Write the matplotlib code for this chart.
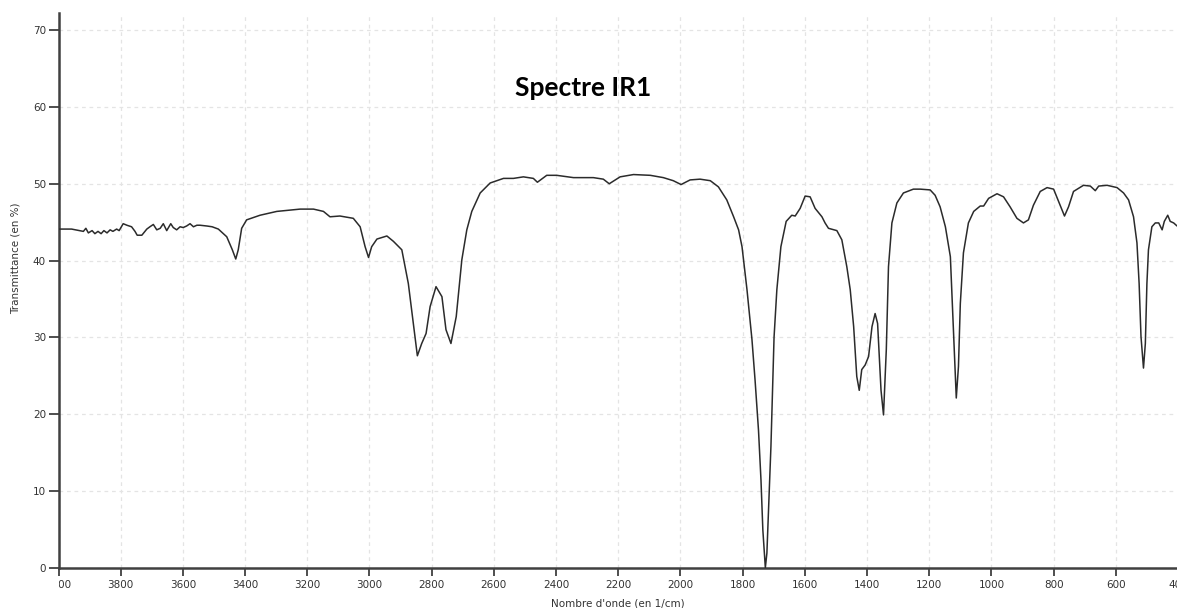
import matplotlib
matplotlib.use("Agg")
import matplotlib.pyplot as plt
from matplotlib.transforms import Bbox, TransformedBbox

plt.rcParams['font.family'] = ['DejaVu Sans']

wavenumber = [4000, 3958, 3920, 3912, 3904, 3892, 3883, 3873, 3863, 3854, 3844, 3834, 3825, 3813, 3805,
              3792, 3780, 3765, 3754, 3747, 3732, 3716, 3706, 3695, 3684, 3673, 3663, 3652, 3639, 3631,
              3620, 3609, 3599, 3588, 3577, 3566, 3555, 3545, 3523, 3506, 3486, 3459, 3441, 3430, 3422,
              3411, 3395, 3352, 3298, 3223, 3180, 3148, 3127, 3095, 3052, 3030, 3014, 3003, 2993, 2976,
              2944, 2923, 2896, 2875, 2859, 2846, 2832, 2818, 2805, 2786, 2767, 2754, 2738, 2721, 2703,
              2687, 2671, 2644, 2612, 2569, 2537, 2505, 2473, 2460, 2430, 2398, 2344, 2280, 2248, 2229,
              2194, 2151, 2097, 2055, 2023, 1998, 1969, 1937, 1904, 1878, 1851, 1829, 1813, 1802, 1786,
              1770, 1760, 1749, 1741, 1735, 1727, 1722, 1715, 1709, 1703, 1699, 1690, 1677, 1660, 1642,
              1631, 1615, 1599, 1583, 1567, 1545, 1535, 1524, 1497, 1481, 1465, 1454, 1443, 1433, 1425,
              1417, 1406, 1395, 1384, 1374, 1366, 1355, 1347, 1338, 1331, 1320, 1304, 1283, 1251, 1229,
              1197, 1181, 1165, 1148, 1132, 1124, 1116, 1113, 1106, 1100, 1090, 1074, 1057, 1036, 1025,
              1009, 982, 961, 940, 918, 897, 881, 865, 843, 821, 800, 779, 765, 752, 736,
              704, 682, 666, 655, 628, 596, 575, 559, 543, 532, 525, 519, 511, 505, 500,
              495, 484, 473, 462, 451, 444, 433, 425, 414, 403, 400]

transmittance = [44.1, 44.1, 43.8, 44.2, 43.6, 43.9, 43.5, 43.8, 43.5, 43.9, 43.6, 44.0, 43.8, 44.1, 43.9,
                 44.8, 44.6, 44.4, 43.8, 43.3, 43.3, 44.1, 44.4, 44.7, 44.0, 44.2, 44.8, 43.9, 44.8, 44.3,
                 44.0, 44.4, 44.3, 44.5, 44.8, 44.4, 44.6, 44.6, 44.5, 44.4, 44.1, 43.1, 41.4, 40.2, 41.4,
                 44.2, 45.3, 45.9, 46.4, 46.7, 46.7, 46.4, 45.7, 45.8, 45.5, 44.4, 41.8, 40.4, 41.8, 42.8,
                 43.2, 42.5, 41.4, 37.0, 31.8, 27.6, 29.2, 30.5, 34.0, 36.6, 35.3, 31.0, 29.2, 32.7, 40.1,
                 44.0, 46.4, 48.8, 50.1, 50.7, 50.7, 50.9, 50.7, 50.2, 51.1, 51.1, 50.8, 50.8, 50.6, 50.0,
                 50.9, 51.2, 51.1, 50.8, 50.4, 49.9, 50.5, 50.6, 50.4, 49.6, 47.9, 45.7, 44.0, 41.8, 36.2,
                 29.7, 24.4, 17.9, 11.4, 4.9, 0.0, 1.9, 9.2, 15.8, 24.4, 30.0, 36.2, 41.8, 45.1, 45.9,
                 45.8, 46.8, 48.4, 48.3, 46.8, 45.7, 44.9, 44.2, 43.9, 42.7, 39.2, 36.2, 31.4, 24.9, 23.1,
                 25.8, 26.4, 27.5, 31.4, 33.1, 31.8, 23.1, 19.9, 28.4, 39.2, 44.9, 47.5, 48.8, 49.3, 49.3,
                 49.2, 48.5, 47.0, 44.4, 40.5, 32.7, 24.9, 22.1, 26.2, 34.4, 41.0, 44.9, 46.4, 47.1, 47.1,
                 48.1, 48.7, 48.3, 47.0, 45.5, 44.9, 45.3, 47.2, 49.0, 49.5, 49.3, 47.2, 45.8, 47.0, 49.0,
                 49.8, 49.7, 49.1, 49.7, 49.8, 49.5, 48.8, 47.9, 45.7, 42.3, 37.0, 30.1, 26.0, 29.2, 37.0,
                 41.4, 44.4, 44.9, 44.9, 44.0, 45.1, 45.9, 45.1, 44.9, 44.5, 44.6]

x_ticks = list(range(4000, 399, -200))
x_tick_labels = [str(v) for v in x_ticks]
y_ticks = list(range(0, 71, 10))
y_tick_labels = [str(v) for v in y_ticks]

title_text = "Spectre IR1"
x_label = "Nombre d'onde (en 1/cm)"
y_label = "Transmittance (en %)"

W, H = 1177, 608
fig = plt.figure(figsize=(W / 100, H / 100), dpi=100)
fig.patch.set_facecolor('white')

left_px, right_px = 58.5, 1178.0
bottom_px, top_px = 567.7, 13.3
ax = fig.add_axes([left_px / W, (H - bottom_px) / H,
                   (right_px - left_px) / W, (bottom_px - top_px) / H])

ax.plot(wavenumber, transmittance, color='#2b2b2b', lw=1.1, zorder=3)

ax.set_xlim(4000, 400)
ax.set_ylim(0, 72.2)
ax.set_xticks(x_ticks)
ax.set_xticklabels(x_tick_labels)
ax.set_yticks(y_ticks)
ax.set_yticklabels(y_tick_labels)

ax.grid(True, color='#e4e4e4', linestyle=(0, (3, 3)), linewidth=0.9, zorder=0)
ax.set_axisbelow(True)

for s in ['top', 'right']:
    ax.spines[s].set_visible(False)
for s in ['left', 'bottom']:
    ax.spines[s].set_color('#404040')
    ax.spines[s].set_linewidth(1.8)

ax.tick_params(axis='y', direction='out', length=7, width=1.3, color='#404040',
               labelsize=7.5, labelcolor='#333333', pad=2)
ax.tick_params(axis='x', direction='out', length=6, width=1.3, color='#404040',
               labelsize=7.5, labelcolor='#333333', pad=3)

# clip the first x tick label at the left spine as in the original software
fig.canvas.draw()
clip = TransformedBbox(Bbox([[58.6 / W, 0.0], [1.0, 1.0]]), fig.transFigure)
for lbl in ax.get_xticklabels():
    lbl.set_clip_box(clip)
    lbl.set_clip_on(True)

fig.text(583 / W, 1 - 88 / H, title_text, fontsize=19, fontweight='bold',
         family=['Lato', 'DejaVu Sans'], ha='center', va='center', color='black')
fig.text(617.5 / W, 1 - 603 / H, x_label, fontsize=7.5, ha='center', va='center', color='#333333')
fig.text(16 / W, 1 - 258 / H, y_label, fontsize=7.5, rotation=90, ha='center', va='center',
         color='#333333')

fig.savefig('out.png', dpi=100, facecolor='white')
